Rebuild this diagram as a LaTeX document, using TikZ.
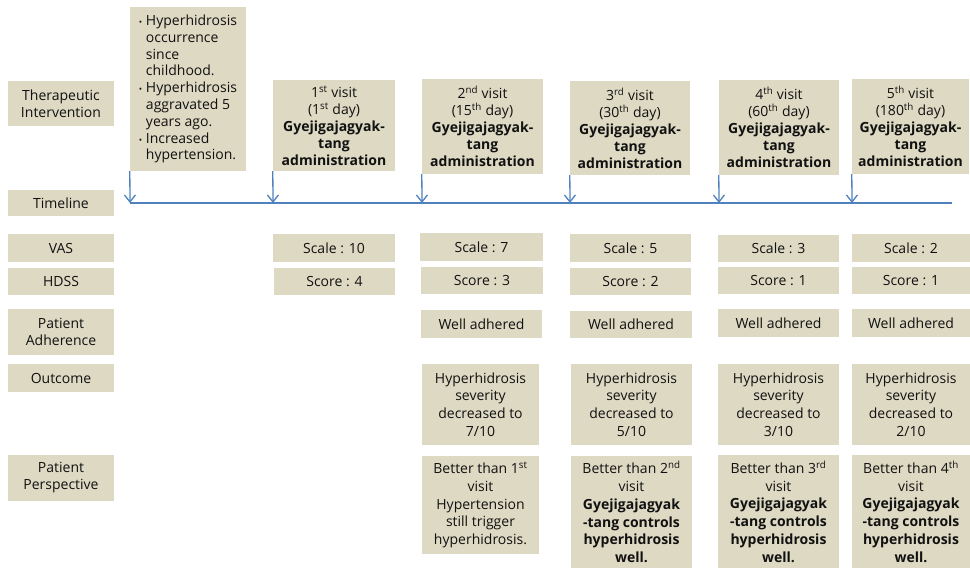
\documentclass[tikz,border=0pt]{standalone}
\usepackage{fontspec}
\setmainfont{Open Sans}
\usetikzlibrary{arrows.meta}
\definecolor{boxc}{HTML}{DDD9C3}
\definecolor{linec}{HTML}{4F81BD}
\definecolor{txtc}{HTML}{111111}
\newcommand\cellnode[7]{\node[cellbox,#6,minimum width={#4pt-#2pt},minimum height={#5pt-#3pt}] (#1) at ({(#2+#4)/2},{(#3+#5)/2}) {#7};}
\tikzset{
  cellbox/.style={fill=boxc, draw=none, inner sep=0pt, align=center, text=txtc,
    font=\fontsize{14}{17}\selectfont},
  tall/.style={font=\fontsize{14}{17.8}\selectfont},
  tline/.style={draw=linec, line width=2pt},
  tarrow/.style={draw=linec, line width=1.3pt, -{Straight Barb[length=7pt,width=11pt]}},
}
\begin{document}
\begin{tikzpicture}[x=1pt,y=-1pt]
\useasboundingbox (0,0) rectangle (970,568);
% left labels
\cellnode{ti}{8}{81}{114}{126}{}{Therapeutic\\Intervention}
\cellnode{tl}{8}{190}{114}{216}{}{Timeline}
\cellnode{vas}{8}{234}{114}{262}{}{VAS}
\cellnode{hdss}{8}{268}{114}{295}{}{HDSS}
\cellnode{adh}{8}{309}{114}{355}{}{Patient\\Adherence}
\cellnode{out}{8}{364}{114}{392}{}{Outcome}
\cellnode{per}{8}{455}{114}{501}{}{Patient\\Perspective}
% history
\cellnode{hist}{130}{7}{246}{171}{align=left,font=\fontsize{14}{16.8}\selectfont}{%
\makebox[7pt][l]{\small•}Hyperhidrosis\\
\hspace*{7pt}occurrence\\
\hspace*{7pt}since\\
\hspace*{7pt}childhood.\\
\makebox[7pt][l]{\small•}Hyperhidrosis\\
\hspace*{7pt}aggravated 5\\
\hspace*{7pt}years ago.\\
\makebox[7pt][l]{\small•}Increased\\
\hspace*{7pt}hypertension.}
% visits
\cellnode{v1}{273}{80}{395}{171}{}{1\textsuperscript{st} visit\\(1\textsuperscript{st} day)\\\textbf{Gyejigajagyak-}\\\textbf{tang}\\\textbf{administration}}
\cellnode{v2}{422}{79}{543}{174}{}{2\textsuperscript{nd} visit\\(15\textsuperscript{th} day)\\\textbf{Gyejigajagyak-}\\\textbf{tang}\\\textbf{administration}}
\cellnode{v3}{570}{81}{690}{175}{}{3\textsuperscript{rd} visit\\(30\textsuperscript{th} day)\\\textbf{Gyejigajagyak-}\\\textbf{tang}\\\textbf{administration}}
\cellnode{v4}{719}{80}{839}{175}{}{4\textsuperscript{th} visit\\(60\textsuperscript{th} day)\\\textbf{Gyejigajagyak-}\\\textbf{tang}\\\textbf{administration}}
\cellnode{v5}{852}{79}{969}{174}{}{5\textsuperscript{th} visit\\(180\textsuperscript{th} day)\\\textbf{Gyejigajagyak-}\\\textbf{tang}\\\textbf{administration}}
% timeline
\coordinate (tlA) at (130,203);
\coordinate (tlB) at (952,203);
\coordinate (t1) at (273,203);
\coordinate (t2) at (422,203);
\coordinate (t3) at (570,203);
\coordinate (t4) at (719,203);
\coordinate (t5) at (852,203);
\draw[tline] (tlA) -- (tlB);
\draw[tarrow] (hist.south west) -- (tlA);
\draw[tarrow] (v1.south west) -- (t1);
\draw[tarrow] (v2.south west) -- (t2);
\draw[tarrow] (v3.south west) -- (t3);
\draw[tarrow] (v4.south west) -- (t4);
\draw[tarrow] (v5.south west) -- (t5);
% VAS
\cellnode{s10}{273}{234}{395}{262}{}{Scale : 10}
\cellnode{s7}{420}{233}{543}{261}{}{Scale : 7}
\cellnode{s5}{570}{234}{691}{262}{}{Scale : 5}
\cellnode{s3}{718}{235}{839}{262}{}{Scale : 3}
\cellnode{s2}{852}{234}{970}{262}{}{Scale : 2}
% HDSS
\cellnode{h4}{274}{268}{395}{295}{}{Score : 4}
\cellnode{h3}{421}{267}{543}{294}{}{Score : 3}
\cellnode{h2}{570}{268}{691}{295}{}{Score : 2}
\cellnode{h1a}{718}{267}{839}{294}{}{Score : 1}
\cellnode{h1b}{852}{267}{970}{294}{}{Score : 1}
% adherence
\cellnode{a2}{421}{310}{542}{338}{}{Well adhered}
\cellnode{a3}{570}{311}{692}{338}{}{Well adhered}
\cellnode{a4}{718}{309}{839}{337}{}{Well adhered}
\cellnode{a5}{852}{309}{970}{337}{}{Well adhered}
% outcome
\cellnode{o2}{422}{364}{539}{445}{tall}{Hyperhidrosis\\severity\\decreased to\\7/10}
\cellnode{o3}{571}{364}{692}{445}{tall}{Hyperhidrosis\\severity\\decreased to\\5/10}
\cellnode{o4}{718}{364}{839}{445}{tall}{Hyperhidrosis\\severity\\decreased to\\3/10}
\cellnode{o5}{852}{364}{970}{445}{tall}{Hyperhidrosis\\severity\\decreased to\\2/10}
% perspective
\cellnode{p2}{422}{456}{539}{554}{tall}{Better than 1\textsuperscript{st}\\visit\\Hypertension\\still trigger\\hyperhidrosis.}
\cellnode{p3}{571}{456}{692}{568}{tall}{Better than 2\textsuperscript{nd}\\visit\\\textbf{Gyejigajagyak}\\\textbf{-tang controls}\\\textbf{hyperhidrosis}\\\textbf{well.}}
\cellnode{p4}{718}{455}{839}{568}{tall}{Better than 3\textsuperscript{rd}\\visit\\\textbf{Gyejigajagyak}\\\textbf{-tang controls}\\\textbf{hyperhidrosis}\\\textbf{well.}}
\cellnode{p5}{852}{455}{970}{568}{tall}{Better than 4\textsuperscript{th}\\visit\\\textbf{Gyejigajagyak}\\\textbf{-tang controls}\\\textbf{hyperhidrosis}\\\textbf{well.}}
\end{tikzpicture}
\end{document}
